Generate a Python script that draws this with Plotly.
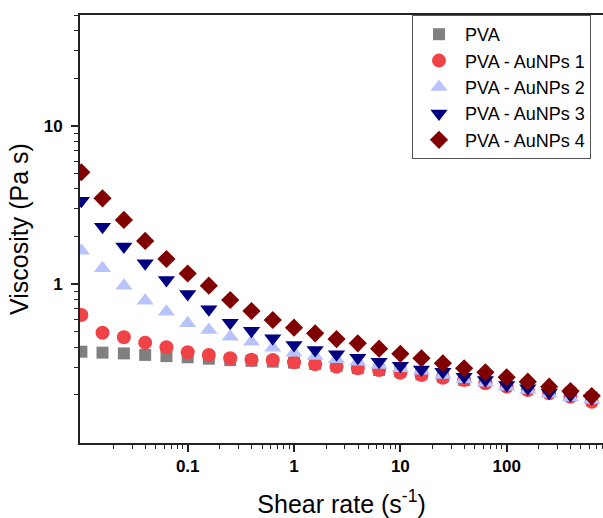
import plotly.graph_objects as go

shear_rate = [0.01, 0.0158, 0.0251, 0.0398, 0.0631, 0.1, 0.158, 0.251, 0.398, 0.631,
              1.0, 1.58, 2.51, 3.98, 6.31, 10.0, 15.8, 25.1, 39.8, 63.1,
              100.0, 158.0, 251.0, 398.0, 631.0]

pva = [0.375, 0.370, 0.366, 0.358, 0.352, 0.346, 0.339, 0.332, 0.329, 0.3245,
       0.320, 0.3135, 0.305, 0.295, 0.2875, 0.2805, 0.270, 0.2608, 0.2485, 0.2425,
       0.2345, 0.2256, 0.215, 0.2066, 0.193]
pva_au1 = [0.64, 0.494, 0.463, 0.428, 0.400, 0.372, 0.358, 0.341, 0.334, 0.332,
           0.3216, 0.312, 0.3016, 0.2946, 0.2875, 0.2764, 0.2673, 0.257, 0.2485, 0.237,
           0.2256, 0.215, 0.205, 0.195, 0.1813]
pva_au2 = [1.63, 1.262, 0.98, 0.788, 0.671, 0.567, 0.514, 0.467, 0.434, 0.398,
           0.370, 0.352, 0.336, 0.324, 0.309, 0.295, 0.2846, 0.267, 0.251, 0.239,
           0.2256, 0.215, 0.2028, 0.193, 0.186]
pva_au3 = [3.37, 2.31, 1.73, 1.357, 1.064, 0.868, 0.695, 0.572, 0.509, 0.456,
           0.4135, 0.3846, 0.361, 0.344, 0.324, 0.306, 0.290, 0.2805, 0.2608, 0.2485,
           0.231, 0.2203, 0.2066, 0.200, 0.1905]
pva_au4 = [5.10, 3.49, 2.55, 1.88, 1.445, 1.17, 0.98, 0.796, 0.678, 0.595,
           0.532, 0.490, 0.451, 0.424, 0.392, 0.364, 0.341, 0.317, 0.2946, 0.278,
           0.2585, 0.2425, 0.2256, 0.2118, 0.197]

series_names = ["PVA", "PVA - AuNPs 1", "PVA - AuNPs 2", "PVA - AuNPs 3", "PVA - AuNPs 4"]
x_tick_vals = [0.1, 1, 10, 100]
x_tick_text = ["0.1", "1", "10", "100"]
y_tick_vals = [1, 10]
y_tick_text = ["1", "10"]

series = [pva, pva_au1, pva_au2, pva_au3, pva_au4]
colors = ["#808080", "#f04348", "#b9c3fb", "#000080", "#800000"]
symbols = ["square", "circle", "triangle-up", "triangle-down", "diamond"]
sizes = [12, 14, 15, 15, 14]

fig = go.Figure()
for name, vals, c, s, sz in zip(series_names, series, colors, symbols, sizes):
    fig.add_trace(go.Scatter(
        x=shear_rate, y=vals, mode="markers", name=name,
        marker=dict(color=c, symbol=s, size=sz, line=dict(width=0)),
    ))

minor_x = []
for dec in [0.01, 0.1, 1, 10, 100]:
    for m in range(2, 10):
        minor_x.append(dec * m)
minor_y = []
for dec in [0.1, 1, 10]:
    for m in range(2, 10):
        minor_y.append(dec * m)

FONT = "Liberation Sans, Arial, sans-serif"
axis_font = dict(family=FONT, size=17, color="#000000", weight="bold")

fig.update_layout(
    width=603, height=518,
    margin=dict(l=80, r=0, t=15, b=75),
    paper_bgcolor="white", plot_bgcolor="white",
    font=dict(family=FONT, color="#000000"),
    showlegend=True,
    legend=dict(
        x=(412 - 80) / 523, y=1.0, xanchor="left", yanchor="top",
        bordercolor="#555555", borderwidth=1, bgcolor="white",
        font=dict(size=18, family=FONT),
        itemsizing="trace", itemwidth=42, tracegroupgap=0,
    ),
)
fig.update_xaxes(
    type="log", range=[-2.013, 2.906],
    tickvals=x_tick_vals, ticktext=x_tick_text,
    tickfont=axis_font,
    ticks="outside", ticklen=7, tickwidth=1.5, tickcolor="#222222",
    minor=dict(tickvals=minor_x, ticks="outside", ticklen=4, tickwidth=1.2, tickcolor="#222222"),
    showline=True, linecolor="#222222", linewidth=1.8, mirror=True,
    showgrid=False, zeroline=False,
    title=dict(text="Shear rate (s<sup>-1</sup>)", font=dict(size=25), standoff=20),
)
fig.update_yaxes(
    type="log", range=[-1.0025, 1.701],
    tickvals=y_tick_vals, ticktext=y_tick_text,
    tickfont=axis_font, ticklabelstandoff=5,
    ticks="outside", ticklen=7, tickwidth=1.5, tickcolor="#222222",
    minor=dict(tickvals=minor_y, ticks="outside", ticklen=4, tickwidth=1.2, tickcolor="#222222"),
    showline=True, linecolor="#222222", linewidth=1.8, mirror=False,
    showgrid=False, zeroline=False,
    title=dict(text="Viscosity (Pa s)", font=dict(size=25), standoff=8),
)

fig.write_html("out.html", config={"displayModeBar": False},
               post_script="document.body.style.margin='0';document.body.style.padding='0';")
